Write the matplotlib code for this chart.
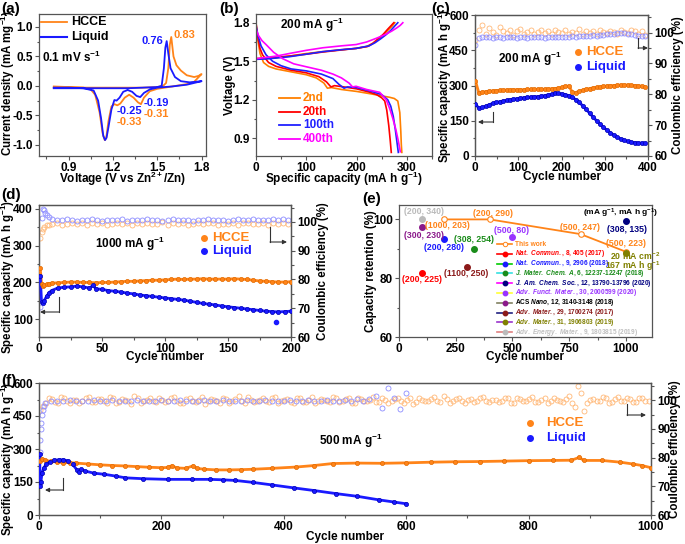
import numpy as np
import matplotlib
matplotlib.use('Agg')
import matplotlib.pyplot as plt
from matplotlib.lines import Line2D
from matplotlib.patches import FancyArrowPatch
from matplotlib.ticker import AutoMinorLocator, FormatStrFormatter

plt.rcParams['font.family'] = ['Liberation Sans', 'DejaVu Sans']
plt.rcParams['font.weight'] = 'bold'
plt.rcParams['axes.labelweight'] = 'bold'
plt.rcParams['mathtext.fontset'] = 'custom'
plt.rcParams['mathtext.rm'] = 'Liberation Sans:bold'
plt.rcParams['mathtext.it'] = 'Liberation Sans:italic:bold'
plt.rcParams['mathtext.bf'] = 'Liberation Sans:bold'
plt.rcParams['mathtext.default'] = 'rm'

ORANGE = '#FF8419'
BLUE = '#1A1AFF'
ORANGE_LT = '#FFB877'
BLUE_LT = '#8C8CFF'

# ---------------- (a) CV curves ----------------
cv_hcce_v = [0.80, 0.90, 1.00, 1.10, 1.20, 1.30, 1.40, 1.50, 1.54, 1.56, 1.575, 1.585, 1.595, 1.61, 1.63, 1.66,
             1.70, 1.75, 1.78, 1.80, 1.75, 1.70, 1.60, 1.50, 1.45, 1.41, 1.39, 1.37, 1.34, 1.31, 1.28, 1.25,
             1.23, 1.21, 1.19, 1.17, 1.155, 1.145, 1.13, 1.11, 1.08, 1.05, 1.00, 0.90, 0.80]
cv_hcce_i = [-0.03, -0.03, -0.03, -0.03, -0.03, -0.03, -0.03, -0.02, 0.00, 0.05, 0.30, 0.70, 0.83, 0.50, 0.35, 0.26,
             0.18, 0.15, 0.17, 0.20, 0.07, 0.03, -0.01, -0.05, -0.09, -0.20, -0.31, -0.28, -0.20, -0.15, -0.20, -0.30,
             -0.33, -0.31, -0.35, -0.60, -0.88, -0.92, -0.80, -0.45, -0.15, -0.06, -0.03, -0.02, -0.01]
cv_liq_v = [0.80, 0.90, 1.00, 1.10, 1.20, 1.30, 1.40, 1.50, 1.53, 1.545, 1.555, 1.564, 1.575, 1.59, 1.62, 1.66,
            1.72, 1.80, 1.70, 1.60, 1.50, 1.45, 1.41, 1.385, 1.36, 1.33, 1.30, 1.27, 1.245, 1.225, 1.21,
            1.19, 1.17, 1.157, 1.147, 1.135, 1.12, 1.10, 1.07, 1.00, 0.90, 0.80]
cv_liq_i = [-0.04, -0.04, -0.04, -0.04, -0.04, -0.04, -0.03, -0.02, 0.00, 0.30, 0.65, 0.76, 0.55, 0.30, 0.15, 0.08,
            0.06, 0.08, 0.02, -0.01, -0.03, -0.06, -0.12, -0.19, -0.17, -0.10, -0.07, -0.10, -0.20, -0.25, -0.24,
            -0.40, -0.70, -0.88, -0.92, -0.85, -0.55, -0.25, -0.08, -0.04, -0.03, -0.03]

# ---------------- (b) charge/discharge profiles ----------------
gcd_labels = ['2nd', '20th', '100th', '400th']
gcd_colors = ['#FF8000', '#FF0000', '#2020FF', '#FF00FF']
dis_cap = [
    [0, 3, 8, 15, 25, 40, 60, 80, 100, 120, 135, 142, 150, 170, 200, 230, 250, 265, 275, 282, 286, 288, 289, 290],
    [0, 3, 8, 13, 25, 40, 70, 100, 125, 140, 149, 156, 175, 200, 225, 240, 250, 256, 260, 264, 267, 269],
    [0, 4, 10, 20, 33, 50, 70, 100, 130, 153, 165, 175, 182, 200, 230, 250, 262, 268, 273, 277, 280, 283],
    [0, 5, 12, 20, 35, 53, 75, 100, 130, 153, 170, 185, 192, 199, 220, 246, 259, 266, 272, 278, 283, 287],
]
dis_v = [
    [1.80, 1.68, 1.56, 1.49, 1.46, 1.44, 1.425, 1.41, 1.395, 1.37, 1.33, 1.29, 1.295, 1.28, 1.265, 1.245, 1.23,
     1.22, 1.21, 1.19, 1.10, 0.95, 0.85, 0.79],
    [1.80, 1.70, 1.60, 1.55, 1.49, 1.46, 1.43, 1.41, 1.38, 1.34, 1.30, 1.31, 1.30, 1.285, 1.26, 1.24, 1.215, 1.19,
     1.12, 1.00, 0.88, 0.79],
    [1.78, 1.70, 1.62, 1.55, 1.50, 1.465, 1.44, 1.425, 1.40, 1.365, 1.32, 1.29, 1.30, 1.295, 1.265, 1.24, 1.20,
     1.15, 1.07, 0.97, 0.88, 0.79],
    [1.75, 1.70, 1.66, 1.63, 1.57, 1.52, 1.48, 1.457, 1.43, 1.40, 1.37, 1.33, 1.30, 1.305, 1.28, 1.258, 1.20, 1.13,
     1.055, 0.97, 0.88, 0.795],
]
chg_cap = [
    [0, 20, 40, 66, 100, 133, 170, 199, 220, 232, 242, 252, 262, 270, 276],
    [0, 20, 40, 66, 100, 133, 170, 199, 222, 233, 243, 253, 262, 268, 274],
    [0, 20, 40, 66, 100, 133, 170, 199, 225, 237, 248, 258, 268, 276, 282],
    [0, 20, 40, 66, 100, 133, 170, 199, 220, 240, 258, 270, 280, 287, 292],
]
chg_v = [
    [1.52, 1.525, 1.53, 1.54, 1.56, 1.575, 1.59, 1.60, 1.615, 1.64, 1.67, 1.70, 1.74, 1.77, 1.80],
    [1.52, 1.522, 1.528, 1.54, 1.555, 1.572, 1.588, 1.60, 1.615, 1.64, 1.675, 1.71, 1.75, 1.775, 1.80],
    [1.515, 1.518, 1.525, 1.535, 1.555, 1.575, 1.59, 1.60, 1.62, 1.645, 1.675, 1.705, 1.74, 1.775, 1.80],
    [1.52, 1.53, 1.54, 1.56, 1.585, 1.605, 1.62, 1.63, 1.65, 1.68, 1.71, 1.735, 1.76, 1.78, 1.80],
]

# ---------------- (c) 200 mA/g cycling ----------------
c_cyc = np.arange(1, 401, 8)
c_hcce_cap = [320, 268, 272, 274, 276, 277, 278, 279, 280, 281, 281, 282, 282, 282, 282, 283, 283, 283, 284, 284,
              284, 285, 286, 287, 289, 292, 296, 298, 272, 270, 276, 280, 284, 287, 290, 292, 294, 296, 298, 299,
              300, 301, 302, 302, 302, 301, 300, 299, 297, 294]
c_liq_cap = [222, 203, 207, 212, 218, 224, 228, 231, 234, 237, 240, 242, 244, 246, 248, 249, 251, 252, 253, 255,
             257, 260, 263, 266, 266, 264, 261, 257, 250, 240, 228, 214, 198, 182, 166, 150, 136, 122, 110, 99,
             89, 80, 73, 67, 62, 59, 57, 56, 55, 55]
c_hcce_ce = [97.5, 100.8, 102.3, 99.6, 101.5, 100.2, 99.1, 101.9, 100.4, 99.8, 100.9, 99.3, 100.6, 101.2, 99.7,
             100.1, 100.8, 99.5, 100.3, 101.0, 99.9, 100.5, 99.4, 100.7, 100.2, 99.8, 100.9, 99.6, 100.3, 100.0,
             101.1, 99.7, 100.4, 99.9, 100.6, 99.5, 100.8, 100.1, 99.8, 100.5, 100.2, 99.6, 100.9, 100.3, 99.9,
             101.0, 100.4, 99.7, 100.6, 99.2]
c_liq_ce = [96.0, 98.2, 98.6, 98.5, 98.7, 98.4, 98.6, 98.5, 98.3, 98.6, 98.5, 98.7, 98.4, 98.6, 98.5, 98.4, 98.6,
            98.5, 98.7, 98.5, 98.4, 98.6, 98.5, 98.7, 98.6, 98.5, 98.7, 98.6, 98.8, 98.7, 98.9, 98.8, 99.0, 98.9,
            99.1, 99.0, 99.2, 99.3, 99.4, 99.5, 99.7, 99.8, 100.0, 99.9, 99.6, 99.4, 99.2, 99.0, 98.9, 98.8]

# ---------------- (d) 1000 mA/g cycling ----------------
d_hcce_cyc = [1, 2, 3, 4, 6, 8, 10, 15, 20, 25, 30, 35, 40, 45, 50, 55, 60, 65, 70, 75, 80, 85, 90, 95, 100, 105,
              110, 115, 120, 125, 130, 135, 140, 145, 150, 155, 160, 165, 170, 175, 180, 185, 190, 195, 200]
d_hcce_cap = [238, 197, 190, 193, 195, 197, 198, 199, 200, 201, 201, 200, 200, 199, 200, 200, 201, 202, 203, 203,
              204, 205, 206, 206, 207, 208, 209, 208, 209, 209, 210, 209, 209, 209, 209, 210, 209, 208, 206, 204,
              203, 202, 201, 201, 202]
d_liq_cyc = [1, 2, 3, 4, 6, 8, 10, 15, 20, 25, 30, 35, 40, 43, 45, 50, 55, 60, 65, 70, 75, 80, 85, 90, 95, 100,
             105, 110, 115, 120, 125, 130, 135, 140, 145, 150, 155, 160, 165, 170, 175, 180, 185, 190, 195, 200]
d_liq_cap = [217, 148, 145, 150, 162, 172, 178, 185, 187, 188, 190, 188, 185, 192, 183, 181, 178, 176, 174, 171,
             169, 166, 164, 162, 160, 158, 156, 154, 152, 149, 146, 143, 141, 139, 136, 134, 132, 130, 128, 126,
             124, 122, 121, 120, 121, 122]
d_liq_outlier_cyc = [188]
d_liq_outlier_cap = [94]
d_hcce_ce_early_cyc = [1, 2, 3, 4, 6, 8]
d_hcce_ce_early = [94.5, 96.5, 97.6, 98.2, 98.8, 99.0]
d_hcce_ce_late = [99.3, 99.6, 99.1, 99.4, 99.8, 99.2, 99.5, 99.0, 99.6, 99.3, 99.7, 99.1, 99.4, 99.8, 99.2, 99.5,
                  99.0, 99.6, 99.3, 99.7, 99.2, 99.4, 99.9, 99.1, 99.5, 99.3, 99.7, 99.0, 99.4, 99.6, 99.2, 99.5,
                  99.8, 99.1, 99.4, 99.3, 99.7, 99.0, 99.5, 99.6, 99.2, 99.4, 99.7, 99.1, 99.5, 99.3, 99.8, 99.2]
d_liq_ce_early_cyc = [1, 2, 3, 4, 5, 6, 8]
d_liq_ce_early = [70.5, 101.5, 104.5, 104.0, 103.2, 102.5, 101.6]
d_liq_ce_late = [101.0, 100.8, 100.6, 100.9, 100.7, 100.5, 100.8, 100.6, 100.9, 100.7, 100.5, 100.8, 100.6, 100.7,
                 100.9, 100.5, 100.8, 100.6, 100.7, 100.9, 100.6, 100.8, 100.5, 100.7, 100.9, 100.6, 100.8, 100.7,
                 100.5, 100.8, 100.6, 100.9, 100.7, 100.6, 100.8, 100.5, 100.7, 100.9, 100.6, 100.8, 101.0, 100.7,
                 100.8, 100.6, 100.9, 100.7, 101.1, 100.8]
d_ce_late_cyc0, d_ce_late_step = 10, 4

# ---------------- (e) comparison ----------------
this_work_cyc = [200, 400, 800, 1000]
this_work_ret = [100.0, 100.0, 95.0, 89.0]
ref_names = [r'$\it{Nat.\ Commun.}$, 8, 405 (2017)',
             r'$\it{Nat.\ Commun.}$, 9, 2906 (2018)',
             r'$\it{J.\ Mater.\ Chem.\ A}$, 6, 12237-12247 (2018)',
             r'$\it{J.\ Am.\ Chem.\ Soc.}$, 12, 13790-13796 (2020)',
             r'$\it{Adv.\ Funct.\ Mater.}$, 30, 2000599 (2020)',
             r'ACS $\it{Nano}$, 12, 3140-3148 (2018)',
             r'$\it{Adv.\ Mater.}$, 29, 1700274 (2017)',
             r'$\it{Adv.\ Mater.}$, 31, 1906803 (2019)',
             r'$\it{Adv.\ Energy.\ Mater.}$, 9, 1803815 (2019)']
ref_cyc = [100, 200, 330, 1000, 500, 100, 300, 1000, 100]
ref_ret = [81.9, 93.2, 90.1, 99.5, 94.1, 97.3, 83.9, 88.7, 100.0]
ref_mcolor = ['#FF0000', '#1A1AFF', '#1A8C1A', '#000080', '#9933FF', '#8B1A8B', '#8B1A1A', '#808000', '#BBBBBB']
ref_lcolor = ['#FF0000', '#00CC00', '#33E0E0', '#FF00FF', '#FFFF33', '#808060', '#202080', '#9933CC', '#E08080']
ref_tcolor = ['#FF0000', '#1A1AFF', '#1A8C1A', '#000080', '#9933FF', '#000000', '#8B1A1A', '#808000', '#C0C0C0']
ref_point_labels = ['(200, 225)', '(200, 280)', '(308, 254)', '(308, 135)', '(500, 80)', '(300, 230)',
                    '(1100, 250)', None, '(200, 340)']
this_work_labels = ['(1000, 203)', '(200, 290)', '(500, 247)', '(500, 223)']

# ---------------- (f) 500 mA/g cycling ----------------
f_hcce_cyc = [1, 5, 10, 20, 30, 40, 50, 60, 80, 100, 120, 140, 160, 180, 200, 210, 217, 225, 240, 252, 258, 270,
              290, 310, 330, 350, 380, 420, 450, 480, 520, 560, 600, 640, 680, 720, 760, 800, 840, 870, 883, 890,
              920, 950, 970, 985, 1000]
f_hcce_cap = [246, 255, 248, 244, 240, 238, 238, 236, 232, 228, 225, 223, 220, 217, 215, 216, 224, 214, 212, 224,
              212, 208, 205, 205, 206, 208, 212, 218, 225, 234, 236, 235, 237, 240, 242, 243, 245, 247, 248, 249,
              262, 248, 248, 240, 232, 225, 215]
f_liq_cyc = [1, 2, 3, 5, 8, 12, 18, 25, 32, 40, 48, 55, 62, 65, 68, 75, 90, 107, 125, 141, 170, 210, 250, 279,
             300, 321, 350, 380, 417, 450, 486, 520, 555, 580, 600]
f_liq_cap = [277, 131, 150, 190, 215, 231, 243, 249, 251, 251, 246, 230, 205, 195, 208, 200, 190, 185, 177, 169,
             165, 162, 162, 162, 160, 157, 148, 137, 123, 111, 97, 85, 69, 59, 51]
f_hcce_ce = [96.5, 99.2, 100.4, 99.1, 100.8, 98.9, 100.2, 99.6, 101.0, 99.4,
             100.3, 99.0, 100.7, 99.5, 100.1, 98.8, 100.6, 99.8, 100.9, 99.3,
             100.2, 99.7, 101.2, 99.1, 100.4, 99.6, 100.0, 98.7, 100.5, 99.9,
             100.8, 99.2, 100.3, 99.6, 101.1, 99.4, 100.0, 99.8, 100.6, 99.0,
             100.2, 99.5, 100.7, 99.3, 100.1, 98.9, 100.5, 99.7, 101.0, 99.4,
             100.3, 99.1, 100.6, 99.8, 100.2, 99.5, 100.9, 99.2, 100.4, 99.7,
             100.1, 98.8, 100.7, 99.6, 100.3, 99.9, 101.3, 99.0, 100.5, 99.6,
             100.2, 99.3, 100.8, 99.7, 100.0, 99.4, 100.6, 99.1, 100.9, 99.8,
             100.3, 99.5, 100.1, 99.2, 100.7, 99.6, 100.4, 98.9, 104.8, 96.1,
             100.2, 99.7, 101.2, 99.0, 100.5, 99.6, 100.9, 99.3, 100.6, 99.8]
f_hcce_ce_cyc0, f_hcce_ce_step = 1, 10
f_hcce_ce_b = [98.0, 100.6, 99.3, 101.2, 99.7, 100.1, 99.0, 100.9, 99.5, 100.4,
               99.8, 101.0, 99.2, 100.3, 99.6, 101.4, 99.1, 100.2, 99.7, 100.8,
               99.4, 100.6, 99.9, 98.9, 100.7, 99.3, 101.1, 99.8, 100.2, 99.0,
               100.5, 99.7, 101.3, 99.2, 100.0, 99.6, 100.8, 99.4, 101.0, 99.9,
               100.3, 98.9, 100.6, 99.5, 101.2, 99.8, 100.1, 99.3, 100.7, 99.6,
               100.9, 99.0, 100.4, 99.7, 101.1, 99.4, 100.2, 99.8, 100.6, 99.1,
               100.8, 99.5, 100.0, 99.9, 101.0, 99.3, 100.4, 99.6, 100.9, 99.2,
               100.5, 99.8, 101.2, 99.4, 100.1, 99.7, 100.7, 99.0, 100.3, 99.6,
               101.0, 99.3, 100.6, 99.8, 100.2, 99.5, 101.5, 97.8, 102.6, 99.2,
               100.4, 99.9, 100.8, 99.4, 101.1, 99.7, 100.3, 99.5, 100.9, 99.6]
f_hcce_ce_b_cyc0 = 6
f_liq_ce_early_cyc = [1, 2, 3, 4, 5, 6, 8, 10]
f_liq_ce_early = [82.0, 86.0, 90.0, 92.0, 95.0, 96.5, 98.0, 99.0]
f_liq_ce_late = [99.6, 99.9, 99.7, 100.0, 99.8, 99.6, 99.9, 100.1, 99.7, 99.8, 100.0, 99.6, 99.9, 99.8, 100.2,
                 99.7, 99.9, 99.6, 100.0, 99.8, 99.7, 100.1, 99.9, 99.6, 99.8, 100.0, 99.7, 99.9, 100.2, 99.8,
                 99.6, 99.9, 100.0, 99.7, 99.8, 100.1, 99.9, 99.6, 99.8, 100.0, 99.7, 99.9, 100.1, 99.8, 99.6,
                 100.0, 99.9, 99.7, 100.2, 99.8, 100.3, 99.9, 100.4,
                 101.5, 97.3, 104.2, 100.8, 96.8, 102.5]
f_liq_ce_cyc0, f_liq_ce_step = 20, 10

# ================= drawing =================
W, H = 685, 544
fig = plt.figure(figsize=(W / 100, H / 100), dpi=100)


def add_ax(l, t, r, b):
    return fig.add_axes([l / W, 1 - b / H, (r - l) / W, (b - t) / H])


def ftext(x, y, s, **kw):
    kw.setdefault('fontsize', 8.5)
    kw.setdefault('va', 'center')
    fig.text(x / W, 1 - y / H, s, **kw)


def fline(x1, x2, y, color, **kw):
    fig.add_artist(Line2D([x1 / W, x2 / W], [1 - y / H, 1 - y / H], color=color,
                          transform=fig.transFigure, **kw))


def fdot(x, y, color, ms=4, **kw):
    fig.add_artist(Line2D([x / W], [1 - y / H], marker='o', ls='none', color=color, ms=ms,
                          transform=fig.transFigure, **kw))


def elbow(xv, y1, y2, x2):
    # vertical segment then horizontal arrow (figure pixels)
    fig.add_artist(Line2D([xv / W, xv / W], [1 - y1 / H, 1 - y2 / H], color='#333333', lw=0.8,
                          transform=fig.transFigure))
    fig.add_artist(FancyArrowPatch((xv / W, 1 - y2 / H), (x2 / W, 1 - y2 / H), transform=fig.transFigure,
                                   arrowstyle='-|>', mutation_scale=6, lw=0.8, color='#333333',
                                   shrinkA=0, shrinkB=0))


def style(ax, ls=8.5):
    for s in ax.spines.values():
        s.set_color('#555555')
        s.set_linewidth(0.9)
    ax.tick_params(which='both', direction='out', color='#555555', labelsize=ls, width=0.8, pad=1.5)
    ax.tick_params(which='major', length=3)
    ax.tick_params(which='minor', length=1.8)
    ax.xaxis.set_minor_locator(AutoMinorLocator(2))
    ax.yaxis.set_minor_locator(AutoMinorLocator(2))


def xlab(ax, s, ytop, fs=8.5):
    ax.set_xlabel(s, fontsize=fs)
    p = ax.get_position()
    ax.xaxis.set_label_coords(p.x0 + p.width / 2, 1 - ytop / H, transform=fig.transFigure)


def ylab(ax, s, x, fs=8.3, dy=0):
    ax.set_ylabel(s, fontsize=fs)
    p = ax.get_position()
    ax.yaxis.set_label_coords(x / W, p.y0 + p.height / 2 + dy / H, transform=fig.transFigure)


def cap_series(ax, x, y, color, edge):
    ax.plot(x, y, '-', color=color, lw=2.0, zorder=3)
    ax.plot(x, y, 'o', ms=3.0, mfc=color, mec=edge, mew=0.5, zorder=4)


def ce_series(ax, x, y, color):
    ax.plot(x, y, 'o', ms=3.6, mfc='none', mec=color, mew=0.6, zorder=2)


def steps(n, c0, step):
    return c0 + step * np.arange(n)


# ---- (a)
ax = add_ax(39, 14, 206, 156)
ax.plot(cv_hcce_v, cv_hcce_i, color=ORANGE, lw=1.3)
ax.plot(cv_liq_v, cv_liq_i, color=BLUE, lw=1.3)
ax.set_xlim(0.70, 1.83)
ax.set_ylim(-1.19, 1.22)
ax.set_xticks([0.9, 1.2, 1.5, 1.8])
ax.set_yticks([-1.0, -0.5, 0.0, 0.5, 1.0])
ax.yaxis.set_major_formatter(FormatStrFormatter('%.1f'))
style(ax)
xlab(ax, 'Voltage (V vs Zn$^{2+}$/Zn)', 170)
ylab(ax, 'Current density (mA mg$^{-1}$)', 17, dy=2)
fline(41, 67, 22, ORANGE, lw=1.3)
fline(41, 67, 37, BLUE, lw=1.5)
ftext(71, 22, 'HCCE', fontsize=9)
ftext(71, 37, 'Liquid', fontsize=9)
ftext(42, 57, '0.1 mV s$^{-1}$', fontsize=8.5)
ftext(163, 41, '0.76', color=BLUE, ha='right', fontsize=8)
ftext(173, 35, '0.83', color=ORANGE, fontsize=8)
ftext(117, 111, '-0.25', color=BLUE, fontsize=8)
ftext(117, 122, '-0.33', color=ORANGE, fontsize=8)
ftext(144, 103, '-0.19', color=BLUE, fontsize=8)
ftext(144, 114, '-0.31', color=ORANGE, fontsize=8)

# ---- (b)
ax = add_ax(256, 14, 432, 156)
for k in range(4):
    ax.plot(dis_cap[k], dis_v[k], color=gcd_colors[k], lw=1.2)
    ax.plot(chg_cap[k], chg_v[k], color=gcd_colors[k], lw=1.2)
ax.set_xlim(0, 350)
ax.set_ylim(0.762, 1.868)
ax.set_xticks([0, 100, 200, 300])
ax.set_yticks([0.9, 1.2, 1.5, 1.8])
style(ax)
xlab(ax, 'Specific capacity (mA h g$^{-1}$)', 170)
ylab(ax, 'Voltage (V)', 236)
for k, yy in enumerate([98, 112, 125, 139]):
    fline(279, 300, yy, gcd_colors[k], lw=1.3)
    ftext(303, yy, gcd_labels[k], color=gcd_colors[k], fontsize=8.5)
ftext(280, 25, '200 mA g$^{-1}$', fontsize=8.5)

# ---- (c)
ax = add_ax(475, 15, 648, 156)
ax2 = ax.twinx()
ce_series(ax2, c_cyc, c_hcce_ce, ORANGE_LT)
ce_series(ax2, c_cyc, c_liq_ce, BLUE_LT)
cap_series(ax, c_cyc, c_hcce_cap, ORANGE, '#E06A00')
cap_series(ax, c_cyc, c_liq_cap, BLUE, '#0000B0')
ax.set_zorder(ax2.get_zorder() + 1)
ax.patch.set_visible(False)
ax.set_xlim(0, 400)
ax.set_ylim(0, 600)
ax.set_xticks(range(0, 401, 100))
ax.set_yticks(range(0, 601, 150))
ax2.set_ylim(60, 105.7)
ax2.set_yticks(range(60, 101, 10))
style(ax)
style(ax2)
xlab(ax, 'Cycle number', 171)
ylab(ax, 'Specific capacity (mA h g$^{-1}$)', 454)
ylab(ax2, 'Coulombic efficiency (%)', 672)
ftext(498, 59, '200 mA g$^{-1}$', fontsize=8.5)
fdot(578, 52, ORANGE)
fdot(578, 67, BLUE)
ftext(586, 52, 'HCCE', color=ORANGE, fontsize=9.5)
ftext(586, 67, 'Liquid', color=BLUE, fontsize=9.5)
elbow(493, 112, 122, 478)
elbow(638, 38, 48, 648)

# ---- (d)
ax = add_ax(39, 205, 291, 337)
ax2 = ax.twinx()
ce_series(ax2, d_hcce_ce_early_cyc, d_hcce_ce_early, ORANGE_LT)
ce_series(ax2, steps(len(d_hcce_ce_late), d_ce_late_cyc0, d_ce_late_step), d_hcce_ce_late, ORANGE_LT)
ce_series(ax2, d_liq_ce_early_cyc, d_liq_ce_early, BLUE_LT)
ce_series(ax2, steps(len(d_liq_ce_late), d_ce_late_cyc0, d_ce_late_step), d_liq_ce_late, BLUE_LT)
cap_series(ax, d_hcce_cyc, d_hcce_cap, ORANGE, '#E06A00')
cap_series(ax, d_liq_cyc, d_liq_cap, BLUE, '#0000B0')
ax.plot(d_liq_outlier_cyc, d_liq_outlier_cap, 'o', ms=3.0, color=BLUE)
ax.set_zorder(ax2.get_zorder() + 1)
ax.patch.set_visible(False)
ax.set_xlim(0, 200)
ax.set_ylim(52, 410)
ax.set_xticks(range(0, 201, 50))
ax.set_yticks(range(100, 401, 100))
ax2.set_ylim(60, 105.9)
ax2.set_yticks(range(60, 101, 10))
style(ax)
style(ax2)
xlab(ax, 'Cycle number', 351)
ylab(ax, 'Specific capacity (mA h g$^{-1}$)', 17, dy=-6)
ylab(ax2, 'Coulombic efficiency (%)', 317)
ftext(95, 244, '1000 mA g$^{-1}$', fontsize=8.5)
fdot(204, 238, ORANGE)
fdot(204, 251, BLUE)
ftext(212, 238, 'HCCE', color=ORANGE, fontsize=9.5)
ftext(212, 251, 'Liquid', color=BLUE, fontsize=9.5)
elbow(59, 297, 312, 40)
elbow(270, 227, 242, 287)

# ---- (e)
ax = add_ax(399, 205, 652, 337)
ax.plot(this_work_cyc, this_work_ret, '-o', color=ORANGE, lw=1.3, ms=4, mfc='white', mec=ORANGE, mew=0.8)
for k in range(len(ref_cyc)):
    ax.plot([ref_cyc[k]], [ref_ret[k]], 'o', ms=4, color=ref_mcolor[k], zorder=5)
ax.set_xlim(0, 1115)
ax.set_ylim(60, 104.9)
ax.set_xticks(range(0, 1001, 250))
ax.set_yticks([60, 80, 100])
style(ax)
xlab(ax, 'Cycle number', 351)
ylab(ax, 'Capacity retention (%)', 377)
# legend rows
ly0, dy = 244, 9.8
fline(497, 512, ly0, ORANGE, lw=1.2)
fdot(504.5, ly0, ORANGE, ms=3.2, mfc='white', mec=ORANGE, mew=0.7)
ftext(515, ly0, 'This work', color=ORANGE, fontsize=4.8)
for k in range(len(ref_names)):
    yy = ly0 + dy * (k + 1)
    fline(497, 512, yy, ref_lcolor[k], lw=1.2)
    fdot(504.5, yy, ref_mcolor[k], ms=3.2)
    ftext(515, yy, ref_names[k], color=ref_tcolor[k], fontsize=4.7)
# point labels
lab_pos = [(422, 280), (444, 248), (474, 240), (627, 229), (512, 231), (424, 235), (466, 274), None, (424, 212)]
for k in range(len(ref_cyc)):
    if ref_point_labels[k] is not None:
        x, y = lab_pos[k]
        ftext(x, y, ref_point_labels[k], color=ref_mcolor[k], fontsize=6.3, ha='center')
for (x, y), s in zip([(447, 225), (493, 213), (580, 227), (626, 243)], this_work_labels):
    ftext(x, y, s, color=ORANGE, fontsize=6.3, ha='center')
ftext(621, 213, '(mA g$^{-1}$, mA h g$^{-1}$)', fontsize=6, ha='center')
ftext(610, 256, '20 mA cm$^{-2}$', color='#808000', fontsize=6.3)
ftext(605, 266, '167 mA h g$^{-1}$', color='#808000', fontsize=6.3)

# ---- (f)
ax = add_ax(39, 383, 651, 515)
ax2 = ax.twinx()
ce_series(ax2, steps(len(f_hcce_ce), f_hcce_ce_cyc0, f_hcce_ce_step), f_hcce_ce, ORANGE_LT)
ce_series(ax2, steps(len(f_hcce_ce_b), f_hcce_ce_b_cyc0, f_hcce_ce_step), f_hcce_ce_b, ORANGE_LT)
ce_series(ax2, f_liq_ce_early_cyc, f_liq_ce_early, BLUE_LT)
ce_series(ax2, steps(len(f_liq_ce_late), f_liq_ce_cyc0, f_liq_ce_step), f_liq_ce_late, BLUE_LT)
cap_series(ax, f_hcce_cyc, f_hcce_cap, ORANGE, '#E06A00')
cap_series(ax, f_liq_cyc, f_liq_cap, BLUE, '#0000B0')
ax.set_zorder(ax2.get_zorder() + 1)
ax.patch.set_visible(False)
ax.set_xlim(0, 1000)
ax.set_ylim(0, 600)
ax.set_xticks(range(0, 1001, 200))
ax.set_yticks(range(0, 601, 150))
ax2.set_ylim(60, 106)
ax2.set_yticks(range(60, 101, 10))
style(ax)
style(ax2)
xlab(ax, 'Cycle number', 531)
ylab(ax, 'Specific capacity (mA h g$^{-1}$)', 17, dy=-10)
ylab(ax2, 'Coulombic efficiency (%)', 669)
ftext(319, 441, '500 mA g$^{-1}$', fontsize=8.5)
fdot(530, 423, ORANGE)
fdot(530, 438, BLUE)
ftext(546, 423, 'HCCE', color=ORANGE, fontsize=9.5)
ftext(546, 438, 'Liquid', color=BLUE, fontsize=9.5)
elbow(63, 478, 490, 45)
elbow(627, 404, 415, 646)

# panel letters
for s, x, y in [('(a)', 1, 9), ('(b)', 219, 9), ('(c)', 431, 9), ('(d)', 1, 195), ('(e)', 362, 199),
                ('(f)', 1, 381)]:
    ftext(x, y, s, fontsize=11)

fig.savefig('out.png', dpi=100)
